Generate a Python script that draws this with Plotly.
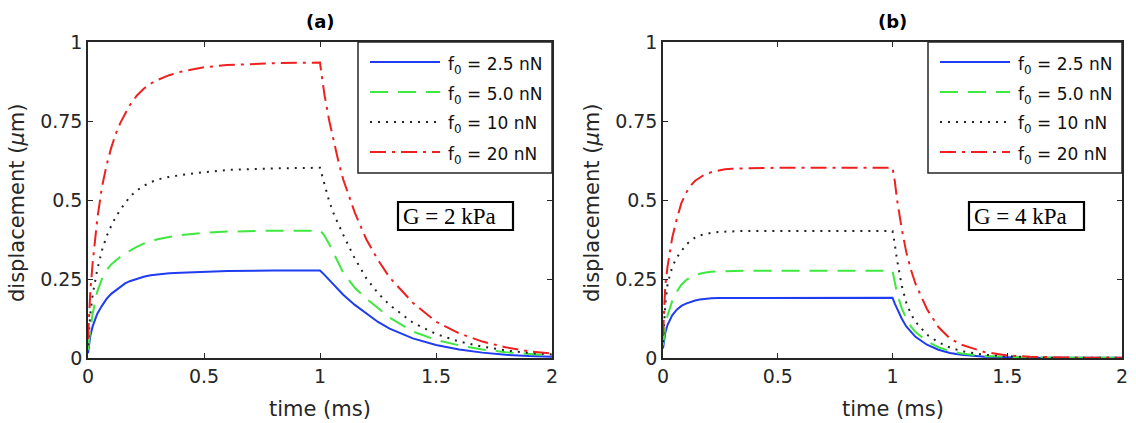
import plotly.graph_objects as go

# time grid (ms): loading phase then release phase
t = [0, 0.005, 0.01, 0.02, 0.03, 0.04, 0.06, 0.08, 0.1, 0.12, 0.14, 0.16, 0.18, 0.21, 0.24, 0.27, 0.3,
     0.35, 0.4, 0.5, 0.6, 0.8, 1.0,
     1.01, 1.02, 1.04, 1.06, 1.08, 1.1, 1.15, 1.2, 1.25, 1.3, 1.4, 1.5, 1.6, 1.7, 1.8, 1.9, 2.0]

labels = ["f<sub>0</sub> = 2.5 nN", "f<sub>0</sub> = 5.0 nN", "f<sub>0</sub> = 10 nN", "f<sub>0</sub> = 20 nN"]
panel_titles = ["(a)", "(b)"]
panel_notes = ["G = 2 kPa", "G = 4 kPa"]

# panel (a), G = 2 kPa  (displacement in um)
a_25 = [0.015, 0.05, 0.07, 0.10, 0.122, 0.14, 0.165, 0.187, 0.203, 0.215, 0.226, 0.236, 0.243, 0.251, 0.257, 0.262, 0.265,
        0.268, 0.270, 0.273, 0.275, 0.277, 0.277,
        0.270, 0.262, 0.246, 0.231, 0.215, 0.200, 0.168, 0.140, 0.114, 0.093, 0.062, 0.041, 0.027, 0.017, 0.010, 0.006, 0.004]
a_50 = [0.025, 0.06, 0.09, 0.14, 0.18, 0.21, 0.25, 0.278, 0.296, 0.31, 0.321, 0.331, 0.340, 0.352, 0.362, 0.370, 0.376,
        0.383, 0.389, 0.396, 0.400, 0.403, 0.403,
        0.396, 0.386, 0.360, 0.330, 0.298, 0.270, 0.222, 0.188, 0.158, 0.128, 0.084, 0.057, 0.040, 0.027, 0.018, 0.012, 0.008]
a_10 = [0.04, 0.10, 0.14, 0.20, 0.245, 0.28, 0.34, 0.385, 0.418, 0.447, 0.47, 0.492, 0.51, 0.53, 0.545, 0.556, 0.565,
        0.573, 0.579, 0.588, 0.595, 0.600, 0.602,
        0.575, 0.55, 0.495, 0.455, 0.42, 0.39, 0.315, 0.252, 0.205, 0.168, 0.112, 0.076, 0.052, 0.036, 0.024, 0.016, 0.011]
a_20 = [0.06, 0.15, 0.21, 0.30, 0.38, 0.44, 0.54, 0.61, 0.665, 0.71, 0.745, 0.775, 0.800, 0.830, 0.852, 0.868, 0.880,
        0.895, 0.906, 0.920, 0.927, 0.933, 0.935,
        0.88, 0.83, 0.75, 0.68, 0.62, 0.565, 0.46, 0.375, 0.31, 0.255, 0.175, 0.115, 0.078, 0.052, 0.034, 0.021, 0.014]

# panel (b), G = 4 kPa
b_25 = [0.03, 0.06, 0.08, 0.105, 0.122, 0.135, 0.153, 0.165, 0.172, 0.178, 0.182, 0.185, 0.187, 0.189, 0.190, 0.190, 0.191,
        0.191, 0.191, 0.191, 0.191, 0.191, 0.191,
        0.172, 0.155, 0.125, 0.100, 0.082, 0.067, 0.042, 0.026, 0.016, 0.010, 0.004, 0.002, 0.001, 0.001, 0.001, 0.001, 0.001]
b_50 = [0.04, 0.075, 0.10, 0.135, 0.16, 0.18, 0.21, 0.232, 0.246, 0.256, 0.263, 0.267, 0.270, 0.273, 0.274, 0.275, 0.276,
        0.276, 0.276, 0.276, 0.276, 0.276, 0.276,
        0.24, 0.205, 0.158, 0.125, 0.100, 0.082, 0.053, 0.034, 0.022, 0.014, 0.006, 0.003, 0.002, 0.001, 0.001, 0.001, 0.001]
b_10 = [0.05, 0.12, 0.17, 0.235, 0.265, 0.288, 0.318, 0.34, 0.358, 0.371, 0.381, 0.388, 0.392, 0.396, 0.399, 0.400, 0.401,
        0.402, 0.402, 0.402, 0.402, 0.402, 0.402,
        0.36, 0.31, 0.23, 0.175, 0.140, 0.115, 0.074, 0.050, 0.033, 0.022, 0.010, 0.005, 0.002, 0.001, 0.001, 0.001, 0.001]
b_20 = [0.07, 0.17, 0.23, 0.29, 0.34, 0.38, 0.44, 0.49, 0.522, 0.545, 0.561, 0.572, 0.580, 0.588, 0.593, 0.597, 0.599,
        0.600, 0.601, 0.602, 0.602, 0.602, 0.602,
        0.56, 0.50, 0.41, 0.335, 0.28, 0.235, 0.155, 0.098, 0.062, 0.042, 0.019, 0.008, 0.004, 0.002, 0.001, 0.001, 0.001]

xticks = [0, 0.5, 1, 1.5, 2]
xticklabels = ["0", "0.5", "1", "1.5", "2"]
yticks = [0, 0.25, 0.5, 0.75, 1]
yticklabels = ["0", "0.25", "0.5", "0.75", "1"]

styles = [
    dict(color="#1f3cf0", dash="solid"),
    dict(color="#3ee83e", dash="18px,10px"),
    dict(color="#222222", dash="2px,6px"),
    dict(color="#ee2020", dash="16px,6px,3px,6px"),
]

W, H = 1136, 423
PX = lambda x: x / W
PY = lambda y: (H - y) / H

fig = go.Figure()

panels = [
    ("x", "y", [a_25, a_50, a_10, a_20]),
    ("x2", "y2", [b_25, b_50, b_10, b_20]),
]
for xa, ya, series in panels:
    for lab, vals, st in zip(labels, series, styles):
        fig.add_trace(go.Scatter(x=t, y=vals, mode="lines", name=lab, xaxis=xa, yaxis=ya, showlegend=False,
                                 line=dict(color=st["color"], dash=st["dash"], width=2)))

plot_top, plot_bot = 42, 358
lefts = [88, 663]
rights = [552, 1122]

font_main = "DejaVu Sans, Liberation Sans, sans-serif"
axcol = "#262626"
common_x = dict(range=[0, 2], tickvals=xticks, ticktext=xticklabels, ticks="inside", ticklen=5,
                tickcolor=axcol, showline=True, linecolor=axcol, linewidth=1.5, mirror="ticks",
                showgrid=False, zeroline=False, automargin=False,
                tickfont=dict(size=19, color=axcol, family=font_main))
common_y = dict(range=[0, 1], tickvals=yticks, ticktext=yticklabels, ticks="inside", ticklen=5,
                tickcolor=axcol, showline=True, linecolor=axcol, linewidth=1.5, mirror="ticks",
                showgrid=False, zeroline=False, automargin=False,
                tickfont=dict(size=19, color=axcol, family=font_main))

fig.update_layout(
    width=W, height=H, margin=dict(l=0, r=0, t=0, b=0),
    paper_bgcolor="white", plot_bgcolor="white", showlegend=False,
    xaxis=dict(domain=[PX(lefts[0]), PX(rights[0])], anchor="y", **common_x),
    yaxis=dict(domain=[PY(plot_bot), PY(plot_top)], anchor="x", **common_y),
    xaxis2=dict(domain=[PX(lefts[1]), PX(rights[1])], anchor="y2", **common_x),
    yaxis2=dict(domain=[PY(plot_bot), PY(plot_top)], anchor="x2", **common_y),
)

title_font = dict(family=font_main, size=21, color=axcol)
for i in range(2):
    L, R = lefts[i], rights[i]
    # axis titles
    fig.add_annotation(x=PX((L + R) / 2), y=PY(409), xref="paper", yref="paper", text="time (ms)",
                       showarrow=False, font=title_font, xanchor="center", yanchor="middle")
    fig.add_annotation(x=PX(L - 71), y=PY(203), xref="paper", yref="paper", text="displacement (<i>μ</i>m)",
                       showarrow=False, font=title_font, textangle=-90, xanchor="center", yanchor="middle")
    # panel title
    fig.add_annotation(x=PX(L + 232 if i == 0 else L + 229), y=PY(22), xref="paper", yref="paper",
                       text="<b>" + panel_titles[i] + "</b>", showarrow=False,
                       xanchor="center", yanchor="middle",
                       font=dict(family=font_main, size=18, color="black"))
    # legend box
    bx0, bx1, by0, by1 = R - 194, R, plot_top, 173
    fig.add_shape(type="rect", xref="paper", yref="paper", x0=PX(bx0), x1=PX(bx1), y0=PY(by1), y1=PY(by0),
                  line=dict(color=axcol, width=1.5), fillcolor="white", layer="above")
    for k, (lab, st) in enumerate(zip(labels, styles)):
        ly = 62 + 30 * k
        fig.add_shape(type="line", xref="paper", yref="paper", x0=PX(bx0 + 12), x1=PX(bx0 + 82),
                      y0=PY(ly), y1=PY(ly), line=dict(color=st["color"], dash=st["dash"], width=2), layer="above")
        fig.add_annotation(x=PX(bx0 + 88), y=PY(ly + 3), xref="paper", yref="paper", text=lab,
                           showarrow=False, xanchor="left", yanchor="middle",
                           font=dict(family=font_main, size=17, color="#111"))
    # G box
    gx0 = 398 if i == 0 else 969
    fig.add_shape(type="rect", xref="paper", yref="paper", x0=PX(gx0), x1=PX(gx0 + 115), y0=PY(230), y1=PY(202),
                  line=dict(color="black", width=2.2), fillcolor="white", layer="above")
    fig.add_annotation(x=PX(gx0 + 3), y=PY(216), xref="paper", yref="paper", text=panel_notes[i],
                       showarrow=False, xanchor="left", yanchor="middle",
                       font=dict(family="Liberation Serif, Times New Roman, serif", size=23, color="black"))

fig.write_html("out.html")
